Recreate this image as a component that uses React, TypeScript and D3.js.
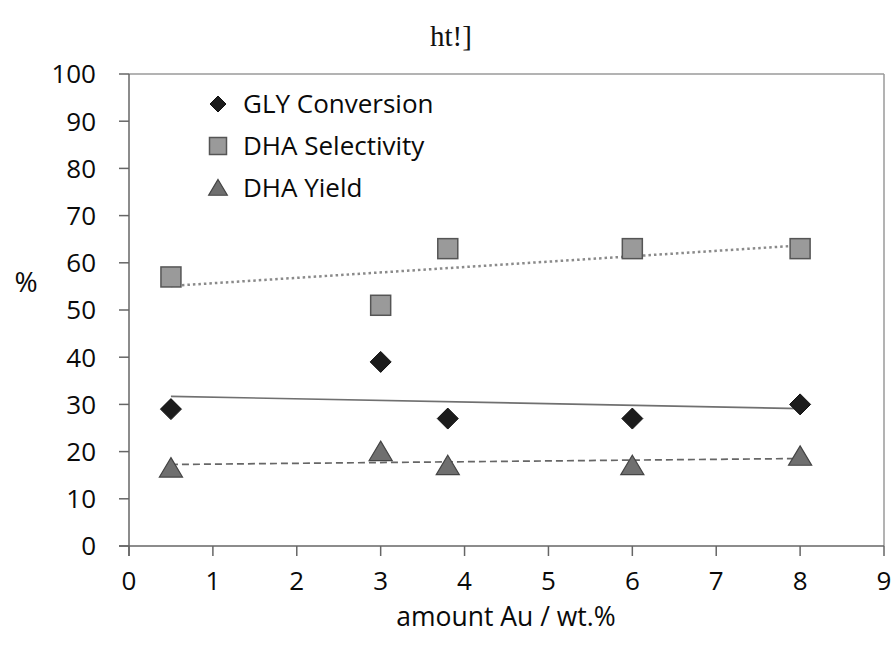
import React from 'react';
import * as d3 from 'd3';

const amountAu = [0.5, 3, 3.8, 6, 8];
const glyConversion = [29, 39, 27, 27, 30];
const dhaSelectivity = [57, 51, 63, 63, 63];
const dhaYield = [16.5, 20, 17, 17, 19];
const xTicks = [0, 1, 2, 3, 4, 5, 6, 7, 8, 9];
const yTicks = [0, 10, 20, 30, 40, 50, 60, 70, 80, 90, 100];
const legendLabels = ['GLY Conversion', 'DHA Selectivity', 'DHA Yield'];

const width = 892;
const height = 651;
const font = '"Open Sans", "DejaVu Sans", sans-serif';

// least-squares fit, as the spreadsheet trend lines
const fit = (xs: number[], ys: number[]) => {
  const mx = d3.mean(xs) as number;
  const my = d3.mean(ys) as number;
  const sxy = d3.sum(xs, (x, i) => (x - mx) * (ys[i] - my));
  const sxx = d3.sum(xs, (x) => (x - mx) * (x - mx));
  const b = sxy / sxx;
  return (x: number) => my + b * (x - mx);
};

const marker = (kind: string, cx: number, cy: number, s: number) => {
  if (kind === 'diamond') {
    return <path d={`M${cx},${cy - s}L${cx + s},${cy}L${cx},${cy + s}L${cx - s},${cy}Z`} fill="#1c1c1c" stroke="#111" strokeWidth={1} />;
  }
  if (kind === 'square') {
    return <rect x={cx - s} y={cy - s} width={2 * s} height={2 * s} fill="#9a9a9a" stroke="#555" strokeWidth={1.5} />;
  }
  return <path d={`M${cx},${cy - s}L${cx + s * 1.1},${cy + s * 0.85}L${cx - s * 1.1},${cy + s * 0.85}Z`} fill="#6f6f6f" stroke="#444" strokeWidth={1.2} />;
};

export default function App() {
  const x = d3.scaleLinear().domain([0, 9]).range([129, 884]);
  const y = d3.scaleLinear().domain([0, 100]).range([546, 74]);

  const series = [
    { values: glyConversion, kind: 'diamond', size: 10.5, dash: 'none', color: '#707070', w: 1.7 },
    { values: dhaSelectivity, kind: 'square', size: 10, dash: '2.5,3', color: '#8a8a8a', w: 2.5 },
    { values: dhaYield, kind: 'triangle', size: 10.5, dash: '7,4', color: '#666', w: 1.7 },
  ];
  const xMin = d3.min(amountAu) as number;
  const xMax = d3.max(amountAu) as number;

  return (
    <svg width={width} height={height} style={{ display: 'block', position: 'absolute', left: 0, top: 0 }}>
      <rect width={width} height={height} fill="#fff" />
      <text x={451} y={46} textAnchor="middle" fontFamily='"Liberation Serif", serif' fontSize={29} fill="#111">ht!]</text>

      {/* frame */}
      <line x1={x(0)} x2={x(9)} y1={y(100)} y2={y(100)} stroke="#9a9a9a" strokeWidth={1.5} />
      <line x1={x(9)} x2={x(9)} y1={y(100)} y2={y(0)} stroke="#9a9a9a" strokeWidth={1.5} />
      <line x1={x(0)} x2={x(0)} y1={y(100)} y2={y(0) + 10} stroke="#666" strokeWidth={1.5} />
      <line x1={x(0) - 10} x2={x(9)} y1={y(0)} y2={y(0)} stroke="#666" strokeWidth={1.5} />

      {yTicks.map((t) => (
        <g key={'y' + t}>
          <line x1={x(0) - 10} x2={x(0)} y1={y(t)} y2={y(t)} stroke="#666" strokeWidth={1.5} />
          <text x={96} y={y(t)} dy="0.36em" textAnchor="end" fontFamily={font} fontSize={26} fill="#0a0a0a">{t}</text>
        </g>
      ))}
      {xTicks.map((t) => (
        <g key={'x' + t}>
          <line x1={x(t)} x2={x(t)} y1={y(0)} y2={y(0) + 10} stroke="#666" strokeWidth={1.5} />
          <text x={x(t)} y={590} textAnchor="middle" fontFamily={font} fontSize={26} fill="#0a0a0a">{t}</text>
        </g>
      ))}

      <text x={26} y={292} textAnchor="middle" fontFamily={font} fontSize={28} fill="#0a0a0a">%</text>
      <text x={506} y={626} textAnchor="middle" fontFamily={font} fontSize={26.5} fill="#0a0a0a">amount Au / wt.%</text>

      {series.map((s, i) => {
        const f = fit(amountAu, s.values);
        return (
          <line key={'t' + i} x1={x(xMin)} x2={x(xMax)} y1={y(f(xMin))} y2={y(f(xMax))}
            stroke={s.color} strokeWidth={s.w} strokeDasharray={s.dash} />
        );
      })}

      {series.map((s, i) => (
        <g key={'s' + i}>
          {s.values.map((v, j) => (
            <g key={j}>{marker(s.kind, x(amountAu[j]), y(v), s.size)}</g>
          ))}
        </g>
      ))}

      {legendLabels.map((label, i) => {
        const ly = 104 + i * 42;
        return (
          <g key={'l' + i}>
            {marker(series[i].kind, 218, ly, i === 0 ? 8 : 8.5)}
            <text x={243} y={ly} dy="0.36em" fontFamily={font} fontSize={26} fill="#0a0a0a">{label}</text>
          </g>
        );
      })}
    </svg>
  );
}
